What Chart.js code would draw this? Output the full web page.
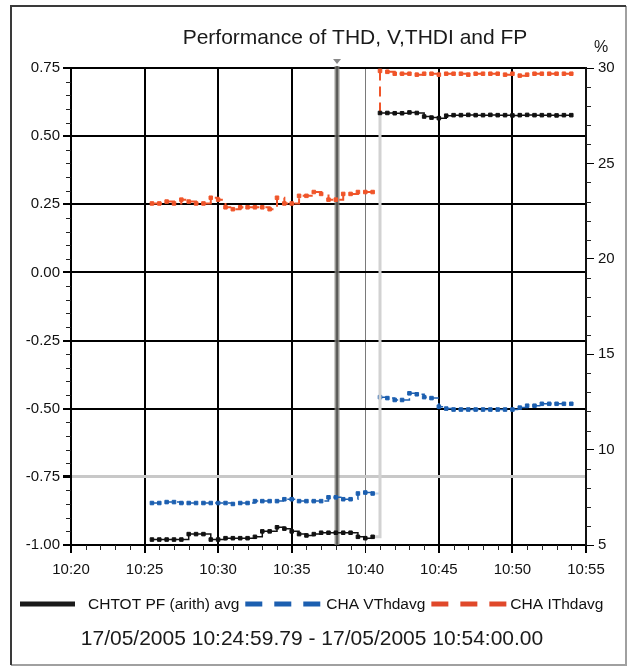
<!DOCTYPE html>
<html>
<head>
<meta charset="utf-8">
<script src="https://cdn.jsdelivr.net/npm/chart.js@4.4.0/dist/chart.umd.min.js"></script>
<style>
  html, body { margin: 0; padding: 0; background: #fff; }
  canvas { display: block; }
</style>
</head>
<body>
<canvas id="thdChart" width="629" height="668"></canvas>
<script>
var chartTitle = 'Performance of THD, V,THDI and FP';
var periodText = '17/05/2005 10:24:59.79 - 17/05/2005 10:54:00.00';
var seriesNames = ['CHTOT PF (arith) avg', 'CHA VThdavg', 'CHA IThdavg'];

// sample times, minutes after 10:00
var times = [25.5, 26, 26.5, 27, 27.5, 28, 28.5, 29, 29.5, 30,
             30.5, 31, 31.5, 32, 32.5, 33, 33.5, 34, 34.5, 35,
             35.5, 36, 36.5, 37, 37.5, 38, 38.5, 39, 39.5, 40, 40.5,
             41, 41.5, 42, 42.5, 43, 43.5, 44, 44.5, 45, 45.5,
             46, 46.5, 47, 47.5, 48, 48.5, 49, 49.5, 50, 50.5,
             51, 51.5, 52, 52.5, 53, 53.5, 54];

var pfAvg = [-0.98, -0.98, -0.98, -0.98, -0.98, -0.96, -0.96, -0.96, -0.98, -0.98,
             -0.975, -0.975, -0.975, -0.975, -0.97, -0.95, -0.95, -0.935, -0.94, -0.95,
             -0.96, -0.965, -0.96, -0.955, -0.955, -0.955, -0.955, -0.955, -0.97, -0.975, -0.97,
             0.585, 0.585, 0.584, 0.584, 0.587, 0.585, 0.572, 0.568, 0.566, 0.575,
             0.577, 0.577, 0.578, 0.577, 0.577, 0.578, 0.577, 0.577, 0.576, 0.577,
             0.578, 0.577, 0.577, 0.577, 0.576, 0.577, 0.577];

var vThd = [7.2, 7.2, 7.25, 7.25, 7.2, 7.2, 7.2, 7.2, 7.2, 7.2,
            7.2, 7.15, 7.2, 7.2, 7.3, 7.3, 7.3, 7.3, 7.4, 7.4,
            7.3, 7.3, 7.3, 7.3, 7.5, 7.5, 7.4, 7.4, 7.7, 7.75, 7.7,
            12.75, 12.7, 12.6, 12.6, 12.95, 12.9, 12.75, 12.7, 12.25, 12.15,
            12.1, 12.1, 12.1, 12.1, 12.1, 12.1, 12.1, 12.1, 12.1, 12.2,
            12.3, 12.3, 12.4, 12.4, 12.4, 12.4, 12.4];

var iThd = [22.9, 22.9, 23.0, 22.9, 23.1, 23.0, 22.9, 22.9, 23.2, 23.1,
            22.7, 22.6, 22.7, 22.7, 22.7, 22.7, 22.6, 23.2, 22.9, 22.9,
            23.3, 23.3, 23.5, 23.4, 23.1, 23.1, 23.4, 23.4, 23.5, 23.5, 23.5,
            29.85, 29.8, 29.7, 29.7, 29.7, 29.65, 29.7, 29.7, 29.65, 29.7,
            29.7, 29.7, 29.65, 29.7, 29.7, 29.7, 29.7, 29.65, 29.7, 29.6,
            29.65, 29.7, 29.7, 29.7, 29.7, 29.7, 29.7];

var xTicks = [20, 25, 30, 35, 40, 45, 50, 55];
var xTickLabels = ['10:20', '10:25', '10:30', '10:35', '10:40', '10:45', '10:50', '10:55'];
var pfTicks = [-1, -0.75, -0.5, -0.25, 0, 0.25, 0.5, 0.75];
var pctTicks = [5, 10, 15, 20, 25, 30];

var cursorTime = 38.08;   // 10:38:05
var jumpIndex = 31;       // first sample after the load change

var FONT = '"Liberation Sans", Arial, Helvetica, sans-serif';
Chart.defaults.font.family = FONT;
Chart.defaults.color = '#111';

function points(values) {
    return values.map(function (v, i) { return { x: times[i], y: v }; });
}

function setTicks(list) {
    return function (axis) {
        axis.ticks = list.map(function (v) { return { value: v }; });
    };
}

// frame, title, cursor, minor ticks, legend and footer
var decor = {
    id: 'decor',
    beforeDatasetsDraw: function (chart) {
        var ctx = chart.ctx, a = chart.chartArea;
        var x = chart.scales.x.getPixelForValue(cursorTime);
        ctx.save();
        ctx.strokeStyle = 'rgba(125,125,120,0.8)';
        ctx.lineWidth = 5;
        ctx.beginPath(); ctx.moveTo(x, a.top - 2); ctx.lineTo(x, a.bottom); ctx.stroke();
        ctx.strokeStyle = '#4a4a48';
        ctx.lineWidth = 1.5;
        ctx.beginPath(); ctx.moveTo(x, a.top - 2); ctx.lineTo(x, a.bottom); ctx.stroke();
        ctx.fillStyle = '#888';
        ctx.beginPath(); ctx.moveTo(x - 4, a.top - 9); ctx.lineTo(x + 4, a.top - 9); ctx.lineTo(x, a.top - 4); ctx.closePath(); ctx.fill();
        ctx.restore();
    },
    afterDraw: function (chart) {
        var ctx = chart.ctx, a = chart.chartArea;
        var sx = chart.scales.x, sy = chart.scales.y, sy1 = chart.scales.y1;
        var i, p;
        ctx.save();

        // minor ticks
        ctx.strokeStyle = '#222';
        ctx.lineWidth = 1;
        ctx.beginPath();
        for (i = 0; i <= 35; i++) {
            if (i % 5 === 0) continue;
            p = Math.round(sx.getPixelForValue(20 + i)) + 0.5;
            ctx.moveTo(p, a.bottom); ctx.lineTo(p, a.bottom + 5);
        }
        for (i = 0; i <= 35; i++) {
            if (i % 5 === 0) continue;
            p = Math.round(sy.getPixelForValue(-1 + i * 0.05)) + 0.5;
            ctx.moveTo(a.left - 5, p); ctx.lineTo(a.left, p);
        }
        for (i = 5; i <= 30; i++) {
            if (i % 5 === 0) continue;
            p = Math.round(sy1.getPixelForValue(i)) + 0.5;
            ctx.moveTo(a.right, p); ctx.lineTo(a.right + 5, p);
        }
        ctx.stroke();

        // title and unit
        ctx.fillStyle = '#1a1a1a';
        ctx.textBaseline = 'middle';
        ctx.textAlign = 'center';
        ctx.font = '21px ' + FONT;
        ctx.fillText(chartTitle, 355, 38);
        ctx.font = '16px ' + FONT;
        ctx.fillText('%', 601, 48);

        // legend
        var colors = ['#1a1a1a', '#1c5fb0', '#e0482a'];
        var swatch = [55, 76, 76];
        var gapAfter = [13, 5, 3];
        var x = 20, y = 604;
        ctx.textAlign = 'left';
        ctx.font = '15.5px ' + FONT;
        chart.data.datasets.forEach(function (ds, k) {
            ctx.save();
            ctx.strokeStyle = colors[k];
            ctx.lineWidth = 5;
            ctx.setLineDash(k === 0 ? [] : [17, 12]);
            ctx.beginPath(); ctx.moveTo(x, y); ctx.lineTo(x + swatch[k], y); ctx.stroke();
            ctx.restore();
            x += swatch[k] + gapAfter[k];
            ctx.fillStyle = '#111';
            ctx.fillText(ds.label, x, y + 1);
            x += ctx.measureText(ds.label).width + 6;
        });

        // period
        ctx.textAlign = 'center';
        ctx.font = '21px ' + FONT;
        ctx.fillStyle = '#1a1a1a';
        ctx.fillText(periodText, 312, 639);

        // frame
        ctx.lineWidth = 2;
        ctx.strokeStyle = '#a0a0a0';
        ctx.beginPath(); ctx.moveTo(626, 6); ctx.lineTo(626, 665); ctx.lineTo(11, 665); ctx.stroke();
        ctx.strokeStyle = '#3a3a3a';
        ctx.beginPath(); ctx.moveTo(11, 665); ctx.lineTo(11, 6); ctx.lineTo(626, 6); ctx.stroke();
        ctx.restore();
    }
};

var ctx = document.getElementById('thdChart').getContext('2d');
var myChart = new Chart(ctx, {
    type: 'line',
    data: {
        datasets: [{
            label: seriesNames[0],
            data: points(pfAvg),
            yAxisID: 'y',
            borderColor: '#111',
            backgroundColor: '#111',
            borderWidth: 1.5,
            stepped: true,
            pointStyle: 'rect',
            pointRadius: 2.5,
            pointBorderWidth: 1,
            segment: {
                borderColor: function (c) { return c.p1DataIndex === jumpIndex ? '#d2d2d2' : undefined; },
                borderWidth: function (c) { return c.p1DataIndex === jumpIndex ? 3 : undefined; }
            }
        }, {
            label: seriesNames[1],
            data: points(vThd),
            yAxisID: 'y1',
            borderColor: '#1c5fb0',
            backgroundColor: '#1c5fb0',
            borderWidth: 1.5,
            borderDash: [8, 5],
            stepped: true,
            pointStyle: 'rect',
            pointRadius: 2.5,
            pointBorderWidth: 1,
            segment: {
                borderColor: function (c) { return c.p1DataIndex === jumpIndex ? '#c4d8ee' : undefined; },
                borderDash: function (c) { return c.p1DataIndex === jumpIndex ? [] : undefined; },
                borderWidth: function (c) { return c.p1DataIndex === jumpIndex ? 2 : undefined; }
            }
        }, {
            label: seriesNames[2],
            data: points(iThd),
            yAxisID: 'y1',
            borderColor: '#f0552a',
            backgroundColor: '#f0552a',
            borderWidth: 2,
            borderDash: [10, 6],
            stepped: true,
            pointStyle: 'rect',
            pointRadius: 2.5,
            pointBorderWidth: 1
        }]
    },
    options: {
        responsive: false,
        animation: false,
        layout: { padding: { top: 68, bottom: 89, left: 0, right: 0 } },
        plugins: {
            legend: { display: false },
            title: { display: false },
            tooltip: { enabled: false }
        },
        scales: {
            x: {
                type: 'linear',
                position: 'bottom',
                min: 20,
                max: 55,
                afterBuildTicks: setTicks(xTicks),
                afterFit: function (s) { s.height = 34; },
                ticks: {
                    padding: 8,
                    font: { size: 15 },
                    maxRotation: 0,
                    autoSkip: false,
                    callback: function (v, i) { return xTickLabels[i]; }
                },
                grid: {
                    color: function (c) { return c.tick && c.tick.value === 40 ? '#7a7a7a' : '#000'; },
                    lineWidth: function (c) { return c.tick && c.tick.value === 40 ? 1 : 2; },
                    tickColor: '#000',
                    tickLength: 8
                },
                border: { color: '#000', width: 2 }
            },
            y: {
                type: 'linear',
                position: 'left',
                min: -1,
                max: 0.75,
                afterBuildTicks: setTicks(pfTicks),
                afterFit: function (s) { s.width = 71; },
                ticks: {
                    padding: 3,
                    font: { size: 15 },
                    callback: function (v) { return Number(v).toFixed(2); }
                },
                grid: {
                    color: function (c) { return c.tick && c.tick.value === -0.75 ? '#c8c8c8' : '#000'; },
                    lineWidth: function (c) { return c.tick && c.tick.value === -0.75 ? 3 : 2; },
                    tickColor: '#000',
                    tickLength: 8
                },
                border: { color: '#000', width: 2 }
            },
            y1: {
                type: 'linear',
                position: 'right',
                min: 5,
                max: 30,
                afterBuildTicks: setTicks(pctTicks),
                afterFit: function (s) { s.width = 43; },
                ticks: {
                    padding: 4,
                    font: { size: 15 },
                    callback: function (v) { return String(v); }
                },
                grid: {
                    drawOnChartArea: false,
                    tickColor: '#000',
                    tickLength: 8
                },
                border: { color: '#111', width: 2 }
            }
        }
    },
    plugins: [decor]
});
</script>
</body>
</html>
